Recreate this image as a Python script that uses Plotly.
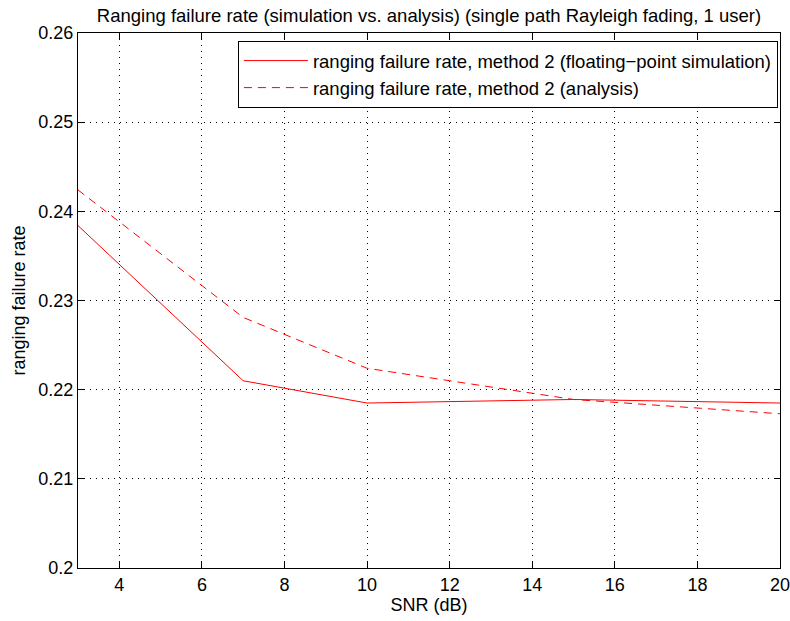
import plotly.graph_objects as go

# SNR points (dB) and failure rates for the two curves
snr_db = [3, 7, 10, 15, 20]
rate_simulation = [0.2384, 0.2210, 0.2185, 0.2189, 0.2185]
rate_analysis = [0.2424, 0.2281, 0.2224, 0.2189, 0.2173]

x_ticks = [4, 6, 8, 10, 12, 14, 16, 18, 20]
y_ticks = [0.20, 0.21, 0.22, 0.23, 0.24, 0.25, 0.26]
y_tick_text = ["0.2", "0.21", "0.22", "0.23", "0.24", "0.25", "0.26"]

font_family = "Liberation Sans, Arial, sans-serif"
font_size = 18
text_size = 18.5

fig = go.Figure()
fig.add_trace(go.Scatter(
    x=snr_db, y=rate_simulation, mode="lines",
    name="ranging failure rate, method 2 (floating\u2212point simulation)",
    line=dict(color="#ff0000", width=1),
))
fig.add_trace(go.Scatter(
    x=snr_db, y=rate_analysis, mode="lines",
    name="ranging failure rate, method 2 (analysis)",
    line=dict(color="#ff0000", width=1, dash="8px,6px"),
))

axis_common = dict(
    showline=True, linecolor="black", linewidth=1, mirror="ticks",
    ticks="inside", ticklen=6, tickcolor="black",
    showgrid=True, gridcolor="black", gridwidth=1, griddash="1px,5px",
    zeroline=False, ticklabeloverflow="allow", automargin=False,
    tickfont=dict(family=font_family, size=font_size, color="black"),
)

fig.update_layout(
    width=790, height=621,
    margin=dict(l=78, r=10, t=33, b=53, autoexpand=False),
    paper_bgcolor="white", plot_bgcolor="white",
    font=dict(family=font_family, size=font_size, color="black"),
    title=dict(
        text="Ranging failure rate (simulation vs. analysis) (single path Rayleigh fading, 1 user)",
        x=0.5, xref="paper", xanchor="center", y=0.986, yanchor="top",
        font=dict(family=font_family, size=text_size, color="black"),
    ),
    xaxis=dict(
        range=[3, 20], tickvals=x_ticks,
        title=dict(text="SNR (dB)", standoff=2,
                   font=dict(family=font_family, size=font_size)),
        **axis_common,
    ),
    yaxis=dict(
        range=[0.2, 0.26], tickvals=y_ticks, ticktext=y_tick_text,
        title=dict(text="ranging failure rate", standoff=8,
                   font=dict(family=font_family, size=font_size)),
        **axis_common,
    ),
    legend=dict(
        x=0.997, y=0.985, xanchor="right", yanchor="top",
        bgcolor="white", bordercolor="black", borderwidth=1,
        font=dict(family=font_family, size=text_size, color="black"),
        tracegroupgap=0, itemwidth=64,
    ),
    showlegend=True,
)

fig.write_html("out.html")
